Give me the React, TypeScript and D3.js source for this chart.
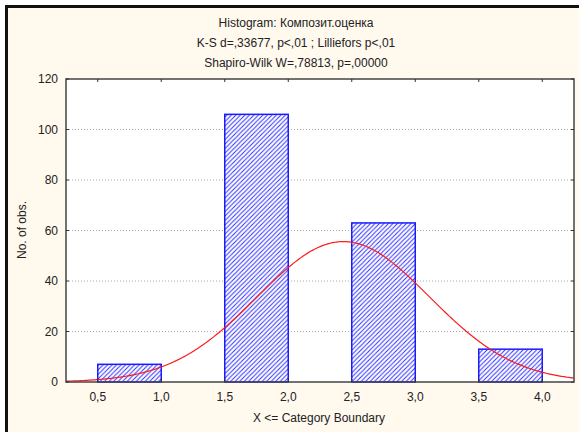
import React from "react";
import * as d3 from "d3";

const W = 579;
const H = 432;

const titleLines = [
  "Histogram: Композит.оценка",
  "K-S d=,33677, p<,01 ; Lilliefors p<,01",
  "Shapiro-Wilk W=,78813, p=,00000",
];
const xLabel = "X <= Category Boundary";
const yLabel = "No. of obs.";

// Category upper boundaries and counts (bins of width 0.5)
const boundaries = [1.0, 1.5, 2.0, 2.5, 3.0, 3.5, 4.0];
const counts = [7, 0, 106, 0, 63, 0, 13];
const binWidth = 0.5;

const xTicks = [0.5, 1.0, 1.5, 2.0, 2.5, 3.0, 3.5, 4.0];
const yTicks = [0, 20, 40, 60, 80, 100, 120];
const xDomain = [0.25, 4.25];
const yDomain = [0, 120];

const fmt = (v: number) => v.toFixed(1).replace(".", ",");

export default function App() {
  const left = 66, right = 574, top = 79, bottom = 382;
  const x = d3.scaleLinear().domain(xDomain).range([left, right]);
  const y = d3.scaleLinear().domain(yDomain).range([bottom, top]);

  // fitted normal curve from observations (values = upper boundaries)
  const n = d3.sum(counts);
  const mean = d3.sum(counts.map((c, i) => c * boundaries[i])) / n;
  const variance =
    d3.sum(counts.map((c, i) => c * (boundaries[i] - mean) ** 2)) / (n - 1);
  const sd = Math.sqrt(variance);
  const xs = d3.range(xDomain[0], xDomain[1] + 0.001, 0.01);
  const curve = xs.map((v) => [
    v,
    (n * binWidth) / (sd * Math.sqrt(2 * Math.PI)) *
      Math.exp(-((v - mean) ** 2) / (2 * variance)),
  ]);
  const line = d3
    .line<number[]>()
    .x((d) => x(d[0]))
    .y((d) => y(d[1]));

  const font = "'Liberation Sans', Arial, sans-serif";
  const fs = 12;

  return (
    <svg
      width={W}
      height={H}
      style={{ position: "absolute", left: 0, top: 0, display: "block" }}
      fontFamily={font}
    >
      <defs>
        <pattern id="hatch" patternUnits="userSpaceOnUse" width={4.5} height={4.5}>
          <rect width={4.5} height={4.5} fill="#fff" />
          <path
            d="M-1,1 L1,-1 M0,4.5 L4.5,0 M3.5,5.5 L5.5,3.5"
            stroke="#3030ff"
            strokeWidth={1}
          />
        </pattern>
        <clipPath id="plotClip">
          <rect x={left} y={top} width={right - left} height={bottom - top} />
        </clipPath>
      </defs>
      <rect x={0} y={0} width={W} height={H} fill="#fff" />
      <rect x={6.5} y={6.5} width={W + 10} height={H + 10} fill="#FFF9EE" stroke="#111" strokeWidth={3} />
      <rect x={left} y={top} width={right - left} height={bottom - top} fill="#fff" />

      {yTicks
        .filter((t) => t > 0 && t < 120)
        .map((t) => (
          <line
            key={"g" + t}
            x1={left}
            x2={right}
            y1={y(t)}
            y2={y(t)}
            stroke="#a8a8a8"
            strokeWidth={1}
            strokeDasharray="1,2"
          />
        ))}

      {counts.map((c, i) =>
        c > 0 ? (
          <rect
            key={"b" + i}
            x={x(boundaries[i] - binWidth)}
            y={y(c)}
            width={x(boundaries[i]) - x(boundaries[i] - binWidth)}
            height={y(0) - y(c)}
            fill="url(#hatch)"
            stroke="#1a1aff"
            strokeWidth={1.5}
          />
        ) : null
      )}

      <path
        d={line(curve) || ""}
        fill="none"
        stroke="#ff1a1a"
        strokeWidth={1.2}
        clipPath="url(#plotClip)"
      />

      <rect
        x={left}
        y={top}
        width={right - left}
        height={bottom - top}
        fill="none"
        stroke="#444"
        strokeWidth={1.5}
      />

      {xTicks.map((t) => (
        <g key={"xt" + t}>
          <line x1={x(t)} x2={x(t)} y1={top} y2={top + 3} stroke="#333" />
          <line x1={x(t)} x2={x(t)} y1={bottom} y2={bottom - 3} stroke="#333" />
          <text x={x(t)} y={401} textAnchor="middle" fontSize={fs} fill="#222">
            {fmt(t)}
          </text>
        </g>
      ))}

      {yTicks.map((t) => (
        <g key={"yt" + t}>
          <line x1={left} x2={left + 3} y1={y(t)} y2={y(t)} stroke="#333" />
          <line x1={right} x2={right - 3} y1={y(t)} y2={y(t)} stroke="#333" />
          <text x={58} y={y(t) + 4} textAnchor="end" fontSize={fs} fill="#222">
            {t}
          </text>
        </g>
      ))}

      <text x={319} y={422} textAnchor="middle" fontSize={fs} fill="#222">
        {xLabel}
      </text>
      <text
        transform={`translate(26,230) rotate(-90)`}
        textAnchor="middle"
        fontSize={fs}
        fill="#222"
      >
        {yLabel}
      </text>

      {titleLines.map((t, i) => (
        <text
          key={"t" + i}
          x={296}
          y={27 + i * 20}
          textAnchor="middle"
          fontSize={fs}
          fill="#222"
        >
          {t}
        </text>
      ))}
    </svg>
  );
}
